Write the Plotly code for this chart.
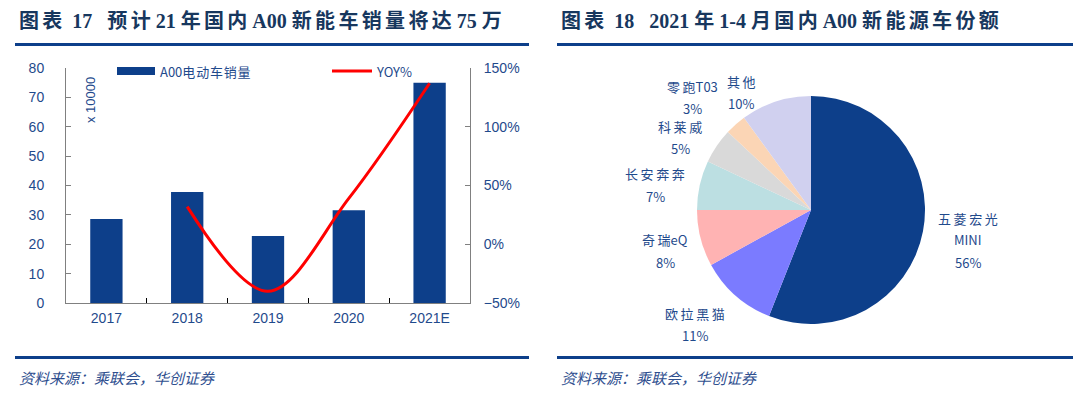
import plotly.graph_objects as go

W, H = 1080, 402

# ---------------- data ----------------
years = ["2017", "2018", "2019", "2020", "2021E"]
sales = [28.6, 37.8, 22.8, 31.6, 75.0]          # x 10000
yoy = [None, 32, -40, 39, 137]                  # %

pie_labels = ["五菱宏光MINI", "欧拉黑猫", "奇瑞eQ", "长安奔奔", "科莱威", "零跑T03", "其他"]
pie_values = [56, 11, 8, 7, 5, 3, 10]
pie_label_lines = [["五菱宏光", "MINI", "56%"], ["欧拉黑猫", "11%"], ["奇瑞eQ", "8%"],
                   ["长安奔奔", "7%"], ["科莱威", "5%"], ["零跑T03", "3%"], ["其他", "10%"]]

# ---------------- styles ----------------
NAVY = "#0D3F8A"
TXT = "#1F4A8C"
TITLE_C = "#17375E"
GREY = "#808080"
pie_colors = ["#0D3F8A", "#7B7BFF", "#FFB3B3", "#BCDFE2", "#D9D9D9", "#FBD5B5", "#D0D0EF"]


def px(x):
    return x / W


def py(y):
    return 1 - y / H


def is_cjk(c):
    return "\u3000" <= c <= "\u9fff" or "\uff00" <= c <= "\uffef"


def spaced(s, sp="\u2006"):
    out = ""
    for i, c in enumerate(s):
        out += c
        if i + 1 < len(s) and is_cjk(c) and is_cjk(s[i + 1]):
            out += sp
    return out.replace(" ", "\u00a0")


fig = go.Figure()

fig.add_trace(go.Bar(x=years, y=sales, marker=dict(color=NAVY, line=dict(width=0)),
                     width=0.4, name="A00电动车销量", showlegend=False))
fig.add_trace(go.Scatter(x=years, y=yoy, mode="lines", yaxis="y2",
                         line=dict(color="#FF0000", width=3, shape="spline", smoothing=1.0),
                         name="YOY%", showlegend=False, connectgaps=False))

# pie
cx, cy, R = 811, 210, 114
fig.add_trace(go.Pie(labels=pie_labels, values=pie_values, sort=False, direction="clockwise",
                     rotation=0, marker=dict(colors=pie_colors, line=dict(width=0)),
                     textinfo="none", hoverinfo="label+percent", showlegend=False,
                     domain=dict(x=[px(cx - R), px(cx + R)], y=[py(cy + R), py(cy - R)])))

axis_font = dict(family="Liberation Sans, Arial, sans-serif", size=14, color=TXT)

fig.update_layout(
    width=W, height=H, margin=dict(l=0, r=0, t=0, b=0, autoexpand=False),
    paper_bgcolor="white", plot_bgcolor="white",
    bargap=0.6,
    xaxis=dict(domain=[px(66), px(470)], showline=True, linecolor=GREY, linewidth=1,
               ticks="inside", tickson="boundaries", ticklen=5, tickcolor="#000000",
               tickfont=axis_font, showgrid=False, zeroline=False, anchor="y",
               ticklabelstandoff=2, automargin=False),
    yaxis=dict(domain=[py(303), py(68)], range=[0, 80], dtick=10, showline=True,
               linecolor=GREY, linewidth=1, ticks="inside", ticklen=5, tickcolor=GREY,
               tickfont=axis_font, showgrid=False, zeroline=False, ticklabelstandoff=18,
               automargin=False),
    yaxis2=dict(domain=[py(303), py(68)], range=[-50, 150], dtick=50, ticksuffix="%",
                overlaying="y", side="right", anchor="x", showline=True, linecolor=GREY,
                linewidth=1, ticks="inside", ticklen=5, tickcolor=GREY, tickfont=axis_font,
                showgrid=False, zeroline=False, ticklabelstandoff=10, automargin=False),
)

shapes = []
ann = []

# titles
title_font = dict(family="Liberation Serif, Noto Sans CJK SC, serif", size=20, color=TITLE_C)
ann.append(dict(x=px(17), y=py(20), xref="paper", yref="paper", xanchor="left", yanchor="middle",
                text="<b>" + spaced("图表  17   预计 21 年国内 A00 新能车销量将达 75 万") + "</b>",
                showarrow=False, font=title_font))
ann.append(dict(x=px(559), y=py(20), xref="paper", yref="paper", xanchor="left", yanchor="middle",
                text="<b>" + spaced("图表  18   2021 年 1-4 月国内 A00 新能源车份额") + "</b>",
                showarrow=False, font=title_font))
for x0, x1 in [(15, 529), (557, 1073)]:
    shapes.append(dict(type="line", xref="paper", yref="paper", x0=px(x0), x1=px(x1),
                       y0=py(44.5), y1=py(44.5), line=dict(color=NAVY, width=3)))
    shapes.append(dict(type="line", xref="paper", yref="paper", x0=px(x0), x1=px(x1),
                       y0=py(357.5), y1=py(357.5), line=dict(color=NAVY, width=3)))

# footers
foot_font = dict(family="Noto Sans CJK SC, sans-serif", size=15, color="#2F4F8F")
for x0 in (17, 559):
    ann.append(dict(x=px(x0), y=py(377), xref="paper", yref="paper", xanchor="left",
                    yanchor="middle", text="<i>资料来源：乘联会，华创证券</i>", showarrow=False,
                    font=foot_font))

# legend (manual)
shapes.append(dict(type="rect", xref="paper", yref="paper", x0=px(117), x1=px(155),
                   y0=py(75), y1=py(67), fillcolor=NAVY, line=dict(width=0)))
ann.append(dict(x=px(158), y=py(71), xref="paper", yref="paper", xanchor="left", yanchor="middle",
                text=spaced("A00电动车销量", "\u200a"), showarrow=False,
                font=dict(family="Noto Sans CJK SC, sans-serif", size=13, color=TXT)))
shapes.append(dict(type="line", xref="paper", yref="paper", x0=px(332), x1=px(372),
                   y0=py(71), y1=py(71), line=dict(color="#FF0000", width=3)))
ann.append(dict(x=px(374), y=py(71), xref="paper", yref="paper", xanchor="left", yanchor="middle",
                text="YOY%", showarrow=False,
                font=dict(family="Noto Sans CJK SC, sans-serif", size=13, color=TXT)))

# x 10000
ann.append(dict(x=px(91), y=py(100), xref="paper", yref="paper", xanchor="center", yanchor="middle",
                text="x 10000", textangle=-90, showarrow=False,
                font=dict(family="Liberation Sans, Arial, sans-serif", size=13, color=TXT)))

# pie labels (block centre offsets from pie centre, px)
label_offsets = [(157, 30), (-116, 114), (-146, 41), (-156, -25), (-131, -73), (-119, -113), (-70, -117)]
line_gap = 22
lab_font = dict(family="Noto Sans CJK SC, sans-serif", size=13, color=TXT)
for lines, (dx, dy) in zip(pie_label_lines, label_offsets):
    n = len(lines)
    for i, t in enumerate(lines):
        yy = cy + dy + (i - (n - 1) / 2) * line_gap
        ann.append(dict(x=px(cx + dx), y=py(yy), xref="paper", yref="paper", xanchor="center",
                        yanchor="middle", text=spaced(t, "\u2009"), showarrow=False, font=lab_font))

fig.update_layout(shapes=shapes, annotations=ann)
fig.write_html("out.html", config={"displayModeBar": False},
               post_script="document.body.style.margin='0';")
